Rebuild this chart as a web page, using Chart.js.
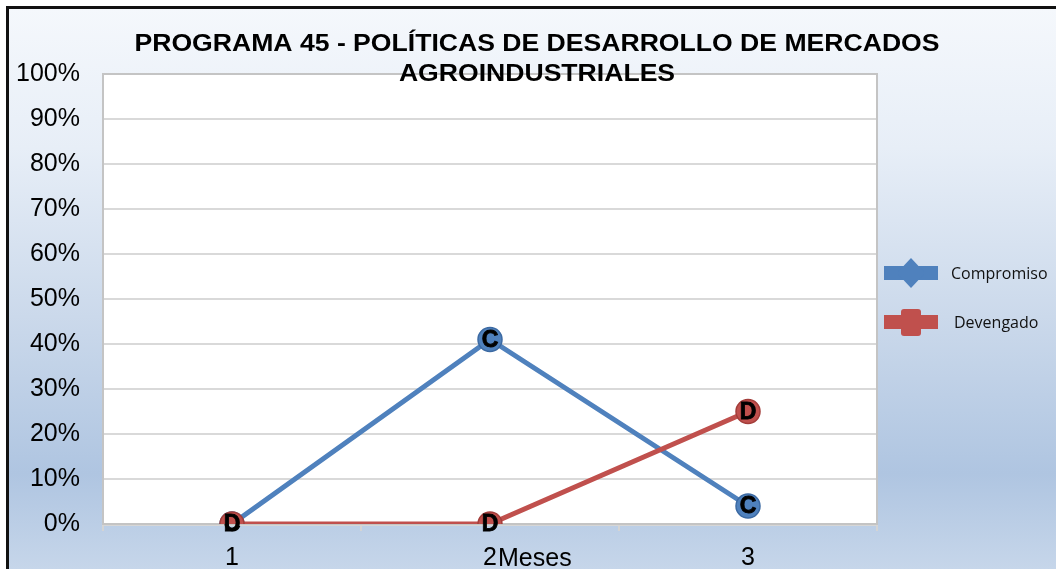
<!DOCTYPE html>
<html>
<head>
<meta charset="utf-8">
<script src="https://cdn.jsdelivr.net/npm/chart.js@4.4.1/dist/chart.umd.min.js"></script>
<style>
  html, body { margin: 0; padding: 0; background: #ffffff; }
  #wrap { width: 1056px; height: 569px; position: relative; }
</style>
</head>
<body>
<div id="wrap"><canvas id="c" width="1056" height="569"></canvas></div>
<script>
// ---- data ----
const categories = ['1', '2', '3'];
const compromiso = [0, 41, 4];
const devengado = [0, 0, 25];
const seriesNames = ['Compromiso', 'Devengado'];
const seriesLetters = ['C', 'D'];
const titleLines = ['PROGRAMA 45 - POLÍTICAS DE DESARROLLO DE MERCADOS', 'AGROINDUSTRIALES'];
const xAxisTitle = 'Meses';
const yMin = 0, yMax = 100, yStep = 10;

const BLUE = '#4f81bd', BLUE_DARK = '#3c6aa3';
const RED = '#c0504d', RED_DARK = '#a33d3a';

const backgroundPlugin = {
  id: 'bg',
  beforeDraw(chart) {
    const ctx = chart.ctx;
    const W = chart.width, H = chart.height;
    ctx.save();
    ctx.fillStyle = '#ffffff';
    ctx.fillRect(0, 0, W, H);
    const g = ctx.createLinearGradient(0, 8, 0, H);
    g.addColorStop(0, '#f5f8fc');
    g.addColorStop(0.25, '#e7eef7');
    g.addColorStop(0.55, '#cbd9eb');
    g.addColorStop(0.83, '#afc5e1');
    g.addColorStop(1, '#c6d6ea');
    ctx.fillStyle = g;
    ctx.fillRect(8, 8, W - 8, H - 8);
    ctx.fillStyle = '#111111';
    ctx.fillRect(6, 6, W - 6, 3);
    ctx.fillRect(6, 6, 3, H - 6);
    const a = chart.chartArea;
    ctx.fillStyle = '#ffffff';
    ctx.fillRect(a.left, a.top, a.right - a.left, a.bottom - a.top);
    ctx.restore();
  },
  beforeDatasetsDraw(chart) {
    const ctx = chart.ctx;
    const a = chart.chartArea;
    ctx.save();
    ctx.strokeStyle = '#c4c4c4';
    ctx.lineWidth = 2;
    ctx.strokeRect(a.left, a.top, a.right - a.left, a.bottom - a.top);
    ctx.restore();
  }
};

const letterPlugin = {
  id: 'letters',
  afterDatasetDraw(chart, args) {
    const ctx = chart.ctx;
    const letter = seriesLetters[args.index];
    ctx.save();
    ctx.font = 'bold 23px "Liberation Sans", Arial, sans-serif';
    ctx.fillStyle = '#000000';
    ctx.strokeStyle = '#000000';
    ctx.lineWidth = 0.8;
    ctx.textAlign = 'center';
    ctx.textBaseline = 'middle';
    args.meta.data.forEach(pt => {
      ctx.fillText(letter, pt.x, pt.y + 1);
      ctx.strokeText(letter, pt.x, pt.y + 1);
    });
    ctx.restore();
  }
};

const overlayPlugin = {
  id: 'overlay',
  afterDraw(chart) {
    const ctx = chart.ctx;
    ctx.save();
    // title
    ctx.fillStyle = '#000000';
    ctx.textAlign = 'center';
    ctx.textBaseline = 'middle';
    ctx.font = 'bold 23px "Liberation Sans", Arial, sans-serif';
    const w1 = ctx.measureText(titleLines[0]).width;
    const sx = 805 / w1;
    ctx.save();
    ctx.translate(537, 45);
    ctx.scale(sx, 1);
    ctx.fillText(titleLines[0], 0, 0);
    ctx.restore();
    ctx.save();
    ctx.translate(537, 75);
    ctx.scale(sx, 1);
    ctx.fillText(titleLines[1], 0, 0);
    ctx.restore();

    // x axis title next to middle tick
    const xs = chart.scales.x;
    const mid = xs.getPixelForValue(1);
    ctx.font = '25px "Liberation Sans", Arial, sans-serif';
    ctx.textAlign = 'left';
    ctx.fillText(xAxisTitle, mid + 8, 559);

    // legend
    const items = [
      { name: seriesNames[0], color: BLUE, y: 273, shape: 'diamond' },
      { name: seriesNames[1], color: RED, y: 322, shape: 'square' }
    ];
    items.forEach(it => {
      ctx.fillStyle = it.color;
      ctx.fillRect(884, it.y - 7, 54, 14);
      const cx = 911;
      ctx.beginPath();
      if (it.shape === 'diamond') {
        ctx.moveTo(cx, it.y - 15);
        ctx.lineTo(cx + 14, it.y);
        ctx.lineTo(cx, it.y + 15);
        ctx.lineTo(cx - 14, it.y);
        ctx.closePath();
        ctx.fill();
      } else {
        ctx.roundRect(cx - 10, it.y - 13, 20, 27, 3);
        ctx.fill();
      }
      ctx.fillStyle = '#111111';
      ctx.font = '16px "Open Sans", "Liberation Sans", sans-serif';
      ctx.textAlign = 'left';
      ctx.textBaseline = 'middle';
      ctx.fillText(it.name, it.shape === 'diamond' ? 951 : 954, it.y + 1);
    });
    ctx.restore();
  }
};

const tickFont = { family: '"Liberation Sans", Arial, sans-serif', size: 25 };

new Chart(document.getElementById('c'), {
  type: 'line',
  data: {
    labels: categories,
    datasets: [
      {
        label: seriesNames[0],
        data: compromiso,
        borderColor: BLUE,
        backgroundColor: BLUE,
        borderWidth: 5,
        pointRadius: 12,
        pointHoverRadius: 12,
        pointBackgroundColor: BLUE,
        pointBorderColor: BLUE_DARK,
        pointBorderWidth: 1.5,
        tension: 0,
        order: 1
      },
      {
        label: seriesNames[1],
        data: devengado,
        borderColor: RED,
        backgroundColor: RED,
        borderWidth: 5,
        pointRadius: 12,
        pointHoverRadius: 12,
        pointBackgroundColor: RED,
        pointBorderColor: RED_DARK,
        pointBorderWidth: 1.5,
        tension: 0,
        order: 0
      }
    ]
  },
  options: {
    responsive: false,
    animation: false,
    events: [],
    layout: { padding: { left: 8, top: 74, right: 179, bottom: 0 } },
    plugins: {
      legend: { display: false },
      title: { display: false },
      tooltip: { enabled: false }
    },
    scales: {
      x: {
        type: 'category',
        offset: true,
        grid: {
          display: true,
          drawOnChartArea: false,
          drawTicks: true,
          tickLength: 7,
          color: '#d4d4d4',
          lineWidth: 2,
          offset: true
        },
        border: { display: true, color: '#d6d6d6', width: 3 },
        ticks: { font: tickFont, color: '#000000', padding: 12, maxRotation: 0 },
        afterFit(scale) { scale.height = 45; }
      },
      y: {
        min: yMin,
        max: yMax,
        grid: { color: '#d9d9d9', lineWidth: 2, drawTicks: false },
        border: { display: true, color: '#c4c4c4', width: 2 },
        ticks: {
          stepSize: yStep,
          font: tickFont,
          color: '#000000',
          padding: 23,
          callback: v => v + '%'
        },
        afterFit(scale) { scale.width = 95; }
      }
    }
  },
  plugins: [backgroundPlugin, letterPlugin, overlayPlugin]
});
</script>
</body>
</html>
